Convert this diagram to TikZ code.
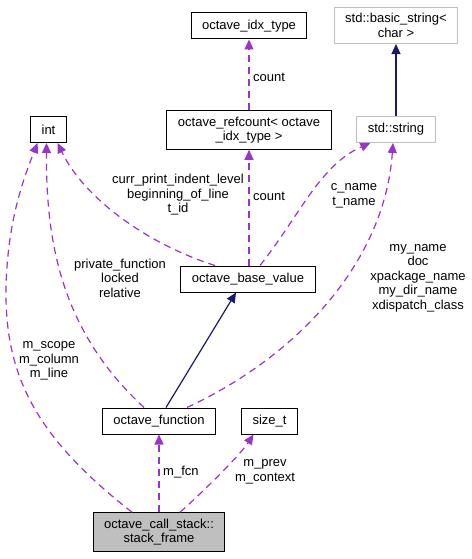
\documentclass[tikz,border=0pt]{standalone}
\usepackage{fontspec}
\setmainfont{Liberation Sans}
\usetikzlibrary{arrows.meta}
\definecolor{usecol}{HTML}{9A32CD}
\definecolor{inhcol}{HTML}{191970}
\definecolor{extcol}{HTML}{BFBFBF}
\begin{document}
\begin{tikzpicture}[x=1pt,y=-1pt,font=\fontsize{13}{14.5}\selectfont,
  cls/.style={draw,line width=1pt,minimum height=26pt,inner xsep=11pt,inner ysep=6pt,align=center},
  ext/.style={cls,draw=extcol},
  usedby/.style={-{Triangle[length=10pt,width=9pt]},draw=usecol,line width=1.2pt,dash pattern=on 7pt off 5pt},
  inh/.style={-{Triangle[length=10pt,width=9pt]},draw=inhcol,line width=1.2pt},
  lbl/.style={align=center,inner sep=0pt}]
\useasboundingbox (0,0) rectangle (471,559);
\node[cls] (idx) at (249,26) {octave\_idx\_type};
\node[ext] (bstr) at (396,25.5) {std::basic\_string<\\char >};
\node[cls] (int) at (48.5,129.5) {int};
\node[cls] (rc) at (249,130) {octave\_refcount< octave\\\_idx\_type >};
\node[ext] (str) at (396,129.5) {std::string};
\node[cls] (bv) at (248,279) {octave\_base\_value};
\node[cls] (fn) at (159,421) {octave\_function};
\node[cls] (st) at (269.5,421) {size\_t};
\node[cls,fill=extcol] (sf) at (159,532) {octave\_call\_stack::\\stack\_frame};
% inheritance
\draw[inh] (str) -- (bstr);
\draw[inh] ([xshift=7pt]fn.north) -- ([xshift=-12pt]bv.south);
% usage
\draw[usedby] (rc.north) -- (idx.south);
\node[lbl,anchor=west] at (253,77) {count};
\draw[usedby] ([xshift=1pt]bv.north) -- (rc.south);
\node[lbl,anchor=west] at (253,196) {count};
\draw[usedby] ([xshift=-33pt]bv.north) .. controls (150,245) and (85,200) .. ([xshift=9pt]int.south);
\node[lbl] at (178,195) {curr\_print\_indent\_level\\beginning\_of\_line\\t\_id};
\draw[usedby] ([xshift=12pt]bv.north) .. controls (300,215) and (320,165) .. ([xshift=14pt]str.south west);
\node[lbl] at (354,196) {c\_name\\t\_name};
\draw[usedby] ([xshift=-15pt]fn.north) .. controls (60,330) and (46,240) .. ([xshift=-2pt]int.south);
\node[lbl] at (120,278) {private\_function\\locked\\relative};
\draw[usedby] ([xshift=28pt]fn.north) .. controls (300,355) and (385,260) .. ([xshift=-3pt]str.south);
\node[lbl] at (418,278) {my\_name\\doc\\xpackage\_name\\my\_dir\_name\\xdispatch\_class};
\draw[usedby] ([xshift=-27pt]sf.north) .. controls (40,440) and (5,380) .. (6,290)
  .. controls (7,220) and (25,175) .. ([xshift=-11pt]int.south);
\node[lbl] at (49,361) {m\_scope\\m\_column\\m\_line};
\draw[usedby] (sf.north) -- (fn.south);
\node[lbl,anchor=west] at (163,472) {m\_fcn};
\draw[usedby] ([xshift=21pt]sf.north) .. controls (205,490) and (240,455) .. ([xshift=-16pt]st.south);
\node[lbl] at (265,472) {m\_prev\\m\_context};
\end{tikzpicture}
\end{document}
